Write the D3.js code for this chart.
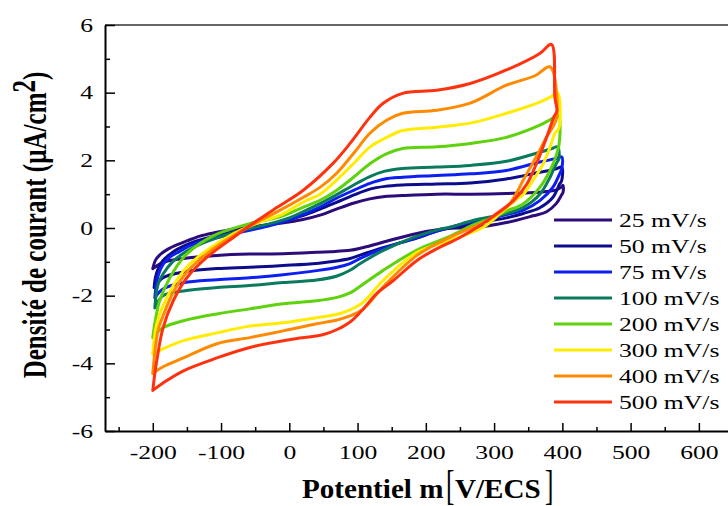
<!DOCTYPE html>
<html><head><meta charset="utf-8">
<script src="https://cdn.jsdelivr.net/npm/d3@7"></script>
<style>body{margin:0;background:#fff}svg{display:block}</style>
</head><body>
<svg id="c" width="728" height="506"></svg>
<script>
// ---- data ----
const seriesLabels = ["25 mV/s","50 mV/s","75 mV/s","100 mV/s","200 mV/s","300 mV/s","400 mV/s","500 mV/s"];
const seriesColors = ["#2b0c7a","#0c0c8c","#0c1ef2","#0a7a5e","#5ed20c","#ffec00","#ff8a00","#ff3210"];
const xTicks = [-200,-100,0,100,200,300,400,500,600];
const xMinorTicks = [-250,-150,-50,50,150,250,350,450,550];
const yTicks = [-6,-4,-2,0,2,4,6];
const yMinorTicks = [-5,-3,-1,1,3,5];

// each loop: [potential mV, current µA/cm²], anodic sweep then cathodic sweep
const cv25 = [[-200,-1.2],[-196,-0.95],[-190,-0.8],[-179,-0.64],[-165,-0.5],[-150,-0.38],[-131,-0.24],[-110,-0.14],[-92,-0.07],[-60,0.02],[-30,0.1],[0,0.18],[20,0.25],[45,0.38],[69,0.56],[95,0.74],[118,0.86],[140,0.93],[166,0.96],[216,1.0],[265,1.0],[318,1.02],[367,1.06],[390,1.12],[398,1.2],[401,1.26],
  [401,1.05],[399,0.98],[391,0.72],[377,0.48],[357,0.36],[318,0.16],[269,0.01],[235,-0.01],[187,-0.16],[137,-0.42],[104,-0.6],[89,-0.66],[60,-0.7],[40,-0.72],[-9,-0.76],[-58,-0.77],[-106,-0.81],[-155,-0.9],[-185,-1.02],[-200,-1.2]];
const cv50 = [[-198,-1.76],[-196,-1.45],[-192,-1.2],[-185,-0.96],[-175,-0.78],[-165,-0.64],[-141,-0.42],[-106,-0.22],[-58,-0.02],[-20,0.15],[20,0.37],[45,0.56],[69,0.76],[95,0.98],[118,1.15],[140,1.23],[166,1.27],[216,1.3],[265,1.33],[318,1.45],[367,1.65],[390,1.74],[399,1.8],
  [399,1.4],[396,1.3],[386,0.9],[367,0.6],[343,0.43],[318,0.3],[269,0.12],[220,-0.07],[187,-0.3],[137,-0.58],[104,-0.8],[89,-0.9],[60,-1.0],[40,-1.05],[-9,-1.11],[-58,-1.16],[-106,-1.2],[-155,-1.3],[-185,-1.47],[-198,-1.76]];
const cv75 = [[-197,-2.06],[-195,-1.7],[-192,-1.4],[-185,-1.08],[-175,-0.86],[-165,-0.74],[-141,-0.48],[-106,-0.28],[-58,-0.07],[-28,0.07],[0,0.24],[20,0.4],[45,0.62],[69,0.88],[95,1.12],[118,1.32],[140,1.45],[166,1.5],[216,1.55],[265,1.6],[318,1.7],[367,1.95],[390,2.05],[399,2.1],
  [399,1.75],[396,1.6],[386,1.2],[367,0.81],[343,0.53],[318,0.4],[294,0.28],[250,0.1],[220,-0.07],[187,-0.28],[137,-0.61],[104,-0.9],[89,-1.05],[70,-1.16],[40,-1.26],[-9,-1.38],[-58,-1.47],[-106,-1.53],[-155,-1.62],[-185,-1.8],[-197,-2.06]];
const cv100 = [[-197,-2.36],[-195,-1.95],[-192,-1.65],[-185,-1.36],[-170,-0.98],[-150,-0.68],[-126,-0.44],[-82,-0.14],[-28,0.13],[0,0.3],[20,0.48],[45,0.72],[69,0.98],[95,1.28],[118,1.52],[140,1.68],[166,1.76],[216,1.8],[265,1.85],[318,1.97],[367,2.24],[385,2.35],[393,2.4],
  [395,2.05],[391,1.9],[382,1.5],[367,1.0],[343,0.61],[318,0.43],[269,0.22],[235,0.02],[220,-0.04],[187,-0.24],[137,-0.67],[104,-1.05],[89,-1.25],[70,-1.42],[40,-1.54],[-9,-1.61],[-58,-1.7],[-106,-1.76],[-155,-1.86],[-185,-2.0],[-197,-2.36]];
const cv200 = [[-200,-3.24],[-196,-2.7],[-190,-2.15],[-175,-1.47],[-155,-0.87],[-131,-0.46],[-106,-0.18],[-58,0.13],[-14,0.33],[20,0.61],[45,0.82],[69,1.11],[94,1.5],[118,1.9],[143,2.2],[166,2.35],[216,2.4],[265,2.5],[318,2.68],[367,3.04],[382,3.2],[394,3.33],
  [396,2.6],[392,2.2],[382,1.7],[367,1.2],[343,0.72],[318,0.5],[294,0.28],[270,0.1],[235,-0.25],[187,-0.65],[137,-1.26],[104,-1.72],[89,-1.92],[70,-2.05],[40,-2.15],[-9,-2.24],[-58,-2.39],[-106,-2.54],[-155,-2.74],[-185,-2.95],[-200,-3.24]];
const cv300 = [[-200,-3.72],[-196,-3.0],[-190,-2.55],[-185,-2.3],[-170,-1.7],[-150,-1.15],[-120,-0.65],[-80,-0.15],[-40,0.2],[-14,0.37],[20,0.76],[45,1.0],[69,1.41],[94,1.9],[118,2.39],[143,2.68],[166,2.88],[216,2.98],[265,3.1],[318,3.39],[367,3.72],[385,3.9],[393,4.0],
  [395,2.95],[389,2.8],[382,2.39],[372,1.9],[357,1.41],[343,1.0],[333,0.85],[310,0.45],[284,0.02],[235,-0.37],[187,-0.72],[137,-1.56],[108,-2.2],[89,-2.42],[70,-2.55],[40,-2.65],[-9,-2.8],[-58,-2.9],[-106,-3.1],[-155,-3.33],[-185,-3.57],[-200,-3.72]];
const cv400 = [[-200,-4.3],[-196,-3.5],[-192,-3.0],[-185,-2.6],[-170,-1.9],[-150,-1.3],[-120,-0.75],[-80,-0.2],[-40,0.25],[-14,0.52],[20,0.9],[45,1.2],[69,1.61],[94,2.2],[118,2.8],[143,3.19],[166,3.39],[216,3.48],[265,3.69],[318,4.22],[360,4.5],[382,4.76],
  [392,3.3],[386,2.98],[377,2.7],[367,2.3],[345,1.5],[323,0.72],[300,0.35],[284,0.16],[235,-0.28],[187,-0.81],[137,-1.75],[108,-2.4],[89,-2.6],[70,-2.72],[40,-2.83],[-9,-3.04],[-58,-3.24],[-106,-3.42],[-155,-3.84],[-185,-4.1],[-200,-4.3]];
const cv500 = [[-200,-4.8],[-197,-4.3],[-194,-3.9],[-185,-2.95],[-170,-2.15],[-150,-1.47],[-121,-0.87],[-82,-0.28],[-47,0.22],[-18,0.61],[20,1.11],[64,1.91],[89,2.5],[118,3.27],[137,3.68],[166,3.98],[216,4.07],[265,4.27],[318,4.67],[367,5.16],[384,5.43],
  [389,3.87],[392,3.45],[388,3.3],[377,2.68],[362,1.9],[348,1.3],[328,0.8],[304,0.43],[280,0.08],[250,-0.28],[211,-0.67],[187,-0.96],[152,-1.56],[128,-1.94],[108,-2.4],[89,-2.78],[70,-3.0],[50,-3.15],[0,-3.3],[-58,-3.53],[-106,-3.84],[-155,-4.22],[-185,-4.58],[-200,-4.8]];
const loops = [cv25,cv50,cv75,cv100,cv200,cv300,cv400,cv500];

// ---- drawing ----
const svg = d3.select("#c");
const x = d3.scaleLinear().domain([-270,650]).range([105,733]);
const y = d3.scaleLinear().domain([-6,6]).range([431,25]);
const SX = 1.35;
const serif = "'Liberation Serif','Times New Roman',serif";

// top and right frame
svg.append("line").attr("x1",x(-270)).attr("x2",x(650)).attr("y1",y(6)).attr("y2",y(6))
  .attr("stroke","#333").attr("stroke-width",1.6);
svg.append("line").attr("x1",x(650)).attr("x2",x(650)).attr("y1",y(6)).attr("y2",y(-6))
  .attr("stroke","#333").attr("stroke-width",1.6);

// bottom axis
const gx = svg.append("g").attr("transform",`translate(0,${y(-6)})`)
  .call(d3.axisBottom(x).tickValues(xTicks).tickSize(-8).tickSizeOuter(0).tickFormat(d=>d));
gx.select(".domain").attr("stroke","#000").attr("stroke-width",2);
gx.selectAll(".tick line").attr("stroke","#000").attr("stroke-width",1.5);
gx.selectAll(".tick text").attr("y",28).attr("dy",0).attr("fill","#000")
  .attr("font-family",serif).attr("font-size",19).attr("transform",`scale(${SX},1)`);
const gxm = svg.append("g").attr("transform",`translate(0,${y(-6)})`)
  .call(d3.axisBottom(x).tickValues(xMinorTicks).tickSize(-4).tickSizeOuter(0).tickFormat(""));
gxm.select(".domain").remove();
gxm.selectAll(".tick line").attr("stroke","#000").attr("stroke-width",1.5);

// left axis
const gy = svg.append("g").attr("transform",`translate(${x(-270)},0)`)
  .call(d3.axisLeft(y).tickValues(yTicks).tickSize(-10).tickSizeOuter(0).tickFormat(d=>d));
gy.select(".domain").attr("stroke","#000").attr("stroke-width",2);
gy.selectAll(".tick line").attr("stroke","#000").attr("stroke-width",1.5);
gy.selectAll(".tick text").attr("x",-12/SX).attr("fill","#000")
  .attr("font-family",serif).attr("font-size",19).attr("transform",`scale(${SX},1)`);
const gym = svg.append("g").attr("transform",`translate(${x(-270)},0)`)
  .call(d3.axisLeft(y).tickValues(yMinorTicks).tickSize(-5).tickSizeOuter(0).tickFormat(""));
gym.select(".domain").remove();
gym.selectAll(".tick line").attr("stroke","#000").attr("stroke-width",1.5);

// curves
const line = d3.line().x(d=>x(d[0])).y(d=>y(d[1])).curve(d3.curveCatmullRom.alpha(0.5));
svg.append("g").selectAll("path").data(loops).join("path")
  .attr("d",line).attr("fill","none").attr("stroke",(d,i)=>seriesColors[i])
  .attr("stroke-width",3).attr("stroke-linejoin","round").attr("stroke-linecap","round");

// legend
const lg = svg.append("g");
seriesLabels.forEach((lab,i)=>{
  const yy = 220 + i*26;
  lg.append("line").attr("x1",554).attr("x2",612).attr("y1",yy).attr("y2",yy)
    .attr("stroke",seriesColors[i]).attr("stroke-width",3);
  lg.append("text").attr("transform",`translate(619,${yy+7}) scale(${SX},1)`)
    .attr("font-family",serif).attr("font-size",19).attr("fill","#000").text(lab);
});

// y label
const yl = svg.append("text").attr("transform",`translate(46,225) scale(${SX},1) rotate(-90)`)
  .attr("text-anchor","middle").attr("font-family",serif).attr("font-weight","bold").attr("font-size",25).attr("fill","#000");
yl.append("tspan").text("Densité de courant (µA/cm");
yl.append("tspan").attr("dy",-8).text("2");
yl.append("tspan").attr("dy",8).text(")");

// x label
const xlStyle = s => s.attr("font-family",serif).attr("font-weight","bold").attr("fill","#000");
svg.append("text").attr("transform","translate(302,498) scale(1.04,1)").attr("font-size",28).call(xlStyle).text("Potentiel m");
svg.append("text").attr("transform","translate(446,499) scale(0.6,1)").attr("font-size",42).attr("font-family",serif).attr("fill","#000").text("[");
svg.append("text").attr("transform","translate(455,498) scale(1.04,1)").attr("font-size",28).call(xlStyle).text("V/ECS");
svg.append("text").attr("transform","translate(545,499) scale(0.6,1)").attr("font-size",42).attr("font-family",serif).attr("fill","#000").text("]");
</script>
</body></html>
